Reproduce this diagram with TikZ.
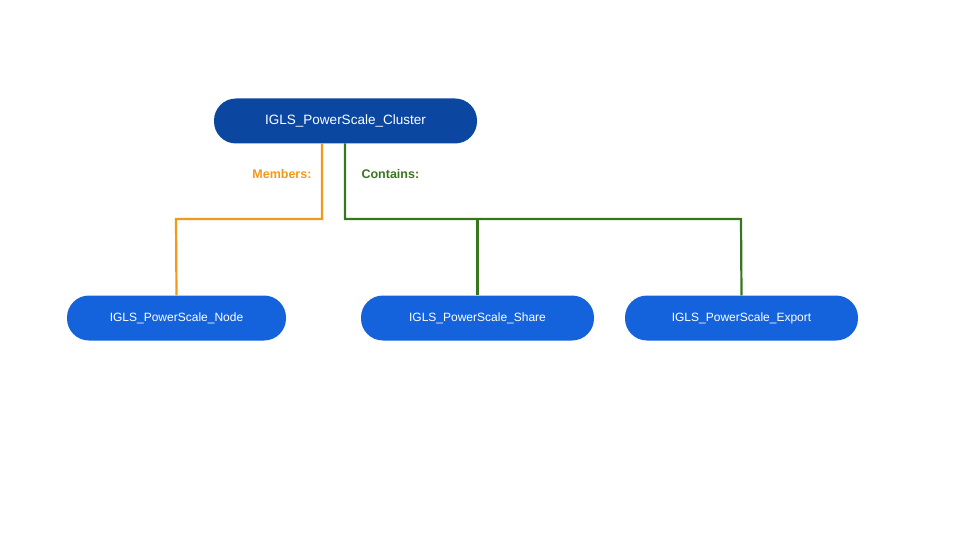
\documentclass[tikz,border=0pt]{standalone}
\usepackage{fontspec}
\setmainfont{Liberation Sans}
\begin{document}
\begin{tikzpicture}[x=1pt,y=-1pt,
  pill/.style={rounded corners=22pt,text=white,inner sep=0pt,minimum height=45pt},
  lbl/.style={font=\bfseries\fontsize{12.5}{14}\selectfont},
  orl/.style={draw={rgb,255:red,242;green,153;blue,27},line width=2.2pt},
  grl/.style={draw={rgb,255:red,56;green,118;blue,29},line width=2.2pt}]
\useasboundingbox (0,0) rectangle (960,540);
\node[pill,fill={rgb,255:red,11;green,71;blue,161},minimum width=263pt,font=\fontsize{13.5}{16}\selectfont] (top) at (345.5,121) {IGLS\_PowerScale\_Cluster};
\node[pill,fill={rgb,255:red,21;green,99;blue,220},minimum width=219pt,font=\fontsize{12}{14}\selectfont] (n) at (176.5,318) {IGLS\_PowerScale\_Node};
\node[pill,fill={rgb,255:red,21;green,99;blue,220},minimum width=233pt,font=\fontsize{12}{14}\selectfont] (s) at (477.5,318) {IGLS\_PowerScale\_Share};
\node[pill,fill={rgb,255:red,21;green,99;blue,220},minimum width=233pt,font=\fontsize{12}{14}\selectfont] (e) at (741.5,318) {IGLS\_PowerScale\_Export};
\coordinate (oa) at (322,143.5);
\coordinate (ga) at (345,143.5);
\draw[orl] (oa) |- (176,219) -- (n.north);
\draw[grl] (ga) |- (741,219) -- (e.north);
\draw[grl] (477.5,219) -- (s.north);
\node[lbl,text={rgb,255:red,242;green,153;blue,27},anchor=east] (ml) at (315,174) {Members:};
\node[lbl,text={rgb,255:red,56;green,118;blue,29},anchor=west] (cl) at (358,174) {Contains:};
\end{tikzpicture}
\end{document}
